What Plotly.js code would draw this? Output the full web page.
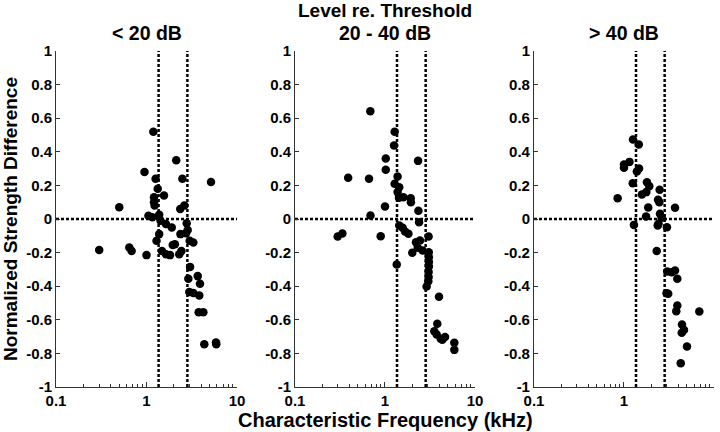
<!DOCTYPE html>
<html>
<head>
<meta charset="utf-8">
<script src="https://cdn.plot.ly/plotly-3.0.1.min.js"></script>
<style>html,body{margin:0;padding:0;background:#fff;}#chart{width:720px;height:432px;}</style>
</head>
<body>
<div id="chart"></div>
<script>
// ---- Data ----
const panelTitles = ["< 20 dB", "20 - 40 dB", "> 40 dB"];
const supTitle = "Level re. Threshold";
const xTitle = "Characteristic Frequency (kHz)";
const yTitle = "Normalized Strength Difference";

const cfLow = [1.19,2.13,0.95,1.26,2.49,5.16,1.33,1.56,1.21,1.21,1.23,0.50,2.62,2.36,1.05,1.16,1.38,1.43,1.64,1.90,2.78,2.85,1.38,2.37,2.73,1.29,3.00,3.29,0.30,0.646,0.685,1.00,1.48,1.64,1.82,1.95,2.06,2.30,2.43,3.03,3.68,2.90,3.90,2.97,3.29,3.83,3.77,4.25,4.35,5.86,5.90];
const diffLow = [0.52,0.35,0.28,0.24,0.24,0.22,0.18,0.14,0.13,0.10,0.08,0.07,0.08,0.06,0.02,0.01,0.025,-0.01,-0.03,-0.05,-0.025,-0.065,-0.09,-0.09,-0.085,-0.13,-0.13,-0.14,-0.185,-0.17,-0.19,-0.215,-0.19,-0.21,-0.215,-0.155,-0.15,-0.21,-0.19,-0.285,-0.34,-0.355,-0.385,-0.435,-0.44,-0.455,-0.555,-0.555,-0.745,-0.735,-0.745];

const cfMid = [0.687,1.28,1.26,1.02,2.33,1.02,0.39,0.664,1.38,1.28,1.44,1.38,1.43,1.60,1.93,1.94,1.00,2.35,0.69,2.39,1.44,1.57,1.67,1.82,0.298,0.336,0.896,3.05,2.21,2.45,2.31,2.62,2.01,3.06,1.35,3.07,3.07,3.07,3.05,3.03,2.90,3.98,3.81,3.53,3.75,4.16,4.64,4.33,5.89,5.89,3.05];
const diffMid = [0.642,0.52,0.437,0.36,0.346,0.293,0.245,0.239,0.253,0.21,0.189,0.16,0.126,0.13,0.124,0.10,0.074,0.049,0.021,-0.019,-0.039,-0.052,-0.074,-0.088,-0.104,-0.086,-0.102,-0.104,-0.138,-0.128,-0.171,-0.1875,-0.201,-0.198,-0.271,-0.227,-0.256,-0.282,-0.315,-0.37,-0.402,-0.463,-0.624,-0.668,-0.688,-0.713,-0.703,-0.719,-0.737,-0.779,-0.345];

const cfHigh = [1.26,1.46,1.15,1.0,1.0,1.47,1.39,1.25,1.80,1.91,1.77,1.58,2.49,0.85,2.39,2.47,1.86,3.69,1.76,2.51,2.62,2.42,2.37,1.29,3.0,2.31,3.02,3.39,3.69,3.91,2.97,3.10,3.91,3.81,6.87,4.41,4.64,4.38,5.01,4.27];
const diffHigh = [0.473,0.443,0.34,0.324,0.305,0.30,0.283,0.213,0.219,0.195,0.16,0.146,0.174,0.124,0.114,0.10,0.068,0.067,0.015,0.031,0.007,-0.029,-0.039,-0.035,-0.049,-0.19,-0.3125,-0.317,-0.307,-0.356,-0.442,-0.445,-0.515,-0.549,-0.551,-0.628,-0.66,-0.677,-0.759,-0.858];

const boundaryFreqs = [1.36, 2.83];   // vertical dotted reference lines (kHz)
const xRange = [0.1, 10];
const yRange = [-1, 1];
const yTicks = [-1,-0.8,-0.6,-0.4,-0.2,0,0.2,0.4,0.6,0.8,1];
const xTicks = [0.1, 1, 10];
const xMinor = [0.2,0.3,0.4,0.5,0.6,0.7,0.8,0.9,2,3,4,5,6,7,8,9];

// ---- Build ----
const panels = [[cfLow, diffLow], [cfMid, diffMid], [cfHigh, diffHigh]];
const domains = [[0, 0.2751], [0.3632, 0.6368], [0.7264, 1.0]];
const fam = "Liberation Sans, Arial, sans-serif";
const dashStyle = {color: "#000", width: 2.5, dash: "3px,2px"};
const tickFont = {family: fam, size: 15, color: "#000"};
const b = s => "<b>" + s + "</b>";

const traces = [];
const layout = {
  width: 720, height: 432,
  margin: {l: 56, r: 6, t: 51, b: 45},
  paper_bgcolor: "#fff", plot_bgcolor: "#fff",
  showlegend: false,
  font: {family: fam, color: "#000"},
  annotations: [],
};

panels.forEach((p, i) => {
  const sfx = i === 0 ? "" : String(i + 1);
  const xa = "x" + sfx, ya = "y" + sfx;
  traces.push({x: xRange, y: [0, 0], xaxis: xa, yaxis: ya, mode: "lines", line: dashStyle, hoverinfo: "skip"});
  boundaryFreqs.forEach(f => {
    traces.push({x: [f, f], y: yRange, xaxis: xa, yaxis: ya, mode: "lines", line: dashStyle, hoverinfo: "skip"});
  });
  traces.push({x: p[0], y: p[1], xaxis: xa, yaxis: ya, mode: "markers", type: "scatter",
    marker: {color: "#000", size: 8.5}});

  layout["xaxis" + sfx] = {
    type: "log", range: [Math.log10(xRange[0]), Math.log10(xRange[1])],
    domain: domains[i], anchor: ya,
    tickmode: "array", tickvals: xTicks, ticktext: xTicks.map(v => b(v)),
    ticks: "inside", ticklen: 5, tickcolor: "#333",
    minor: {tickmode: "array", tickvals: xMinor, ticks: "inside", ticklen: 3, tickcolor: "#333"},
    showline: true, linecolor: "#333", linewidth: 1, mirror: false,
    showgrid: false, zeroline: false,
    tickfont: tickFont,
  };
  layout["yaxis" + sfx] = {
    range: yRange, domain: [0, 1], anchor: xa,
    tickmode: "array", tickvals: yTicks, ticktext: yTicks.map(v => b(v)),
    ticks: "inside", ticklen: 4, tickcolor: "#333",
    showline: true, linecolor: "#333", linewidth: 1,
    showgrid: false, zeroline: false,
    tickfont: tickFont,
  };
  const cx = (domains[i][0] + domains[i][1]) / 2;
  layout.annotations.push({text: b(panelTitles[i].replace("<", "&lt;").replace(">", "&gt;")), xref: "paper", yref: "paper", x: cx, y: 1.0, yshift: 18,
    showarrow: false, xanchor: "center", yanchor: "middle",
    font: {family: fam, size: 19.5, color: "#000"}});
});

layout.annotations.push({text: b(supTitle), xref: "paper", yref: "paper", x: 0.5, y: 1.0, yshift: 41,
  showarrow: false, xanchor: "center", yanchor: "middle",
  font: {family: fam, size: 19, color: "#000"}});
layout.annotations.push({text: b(xTitle), xref: "paper", yref: "paper", x: 0.5, y: 0, yshift: -33,
  showarrow: false, xanchor: "center", yanchor: "middle",
  font: {family: fam, size: 20, color: "#000"}});
layout.annotations.push({text: b(yTitle), xref: "paper", yref: "paper", x: 0, xshift: -46, y: 0.5,
  textangle: -90, showarrow: false, xanchor: "center", yanchor: "middle",
  font: {family: fam, size: 19, color: "#000"}});

Plotly.newPlot("chart", traces, layout, {staticPlot: true, displayModeBar: false});
</script>
</body>
</html>
